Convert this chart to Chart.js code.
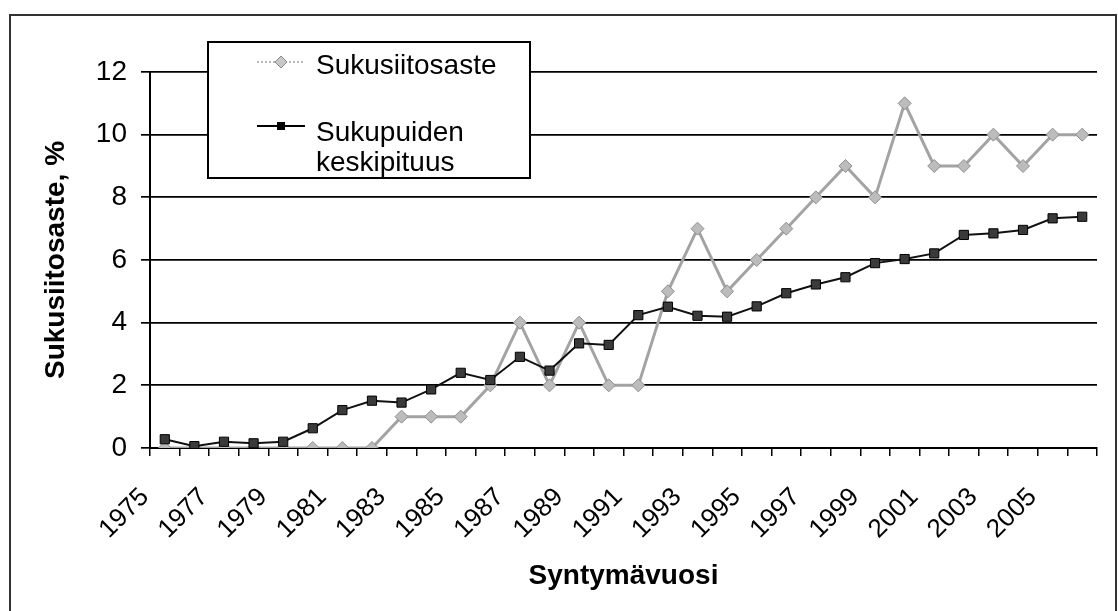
<!DOCTYPE html>
<html><head><meta charset="utf-8">
<script src="https://cdn.jsdelivr.net/npm/chart.js@4/dist/chart.umd.min.js"></script>
<style>html,body{margin:0;padding:0;background:#fff;}#wrap{position:relative;width:1118px;height:611px;}</style>
</head><body><div id="wrap"><canvas id="c" width="1118" height="611"></canvas></div>
<script>
const years = ['1975','1976','1977','1978','1979','1980','1981','1982','1983','1984','1985','1986','1987','1988','1989','1990','1991','1992','1993','1994','1995','1996','1997','1998','1999','2000','2001','2002','2003','2004','2005','2006'];
const sukusiitosaste = [0,0,0,0,0,0,0,0,1,1,1,2,4,2,4,2,2,5,7,5,6,7,8,9,8,11,9,9,10,9,10,10];
const keskipituus = [0.28,0.06,0.2,0.15,0.2,0.63,1.21,1.51,1.45,1.87,2.4,2.17,2.91,2.47,3.34,3.29,4.24,4.51,4.22,4.19,4.52,4.94,5.22,5.45,5.9,6.03,6.21,6.8,6.85,6.96,7.33,7.38];
const seriesNames = ['Sukusiitosaste', 'Sukupuiden keskipituus'];
const yTicks = [0,2,4,6,8,10,12];
const xTitle = 'Syntymävuosi';
const yTitle = 'Sukusiitosaste, %';

const FONT = "'Liberation Sans', Arial, sans-serif";

const frame = {
  id: 'frame',
  beforeDraw(chart) {
    const ctx = chart.ctx;
    ctx.save();
    ctx.strokeStyle = '#333';
    ctx.lineWidth = 2;
    ctx.strokeRect(10, 15, 1106, 605);
    ctx.restore();
  },
  afterDraw(chart) {
    const ctx = chart.ctx;
    ctx.save();
    ctx.fillStyle = '#fff';
    ctx.fillRect(208, 42, 322, 136);
    ctx.strokeStyle = '#000';
    ctx.lineWidth = 2;
    ctx.strokeRect(208, 42, 322, 136);
    // item 1
    ctx.strokeStyle = '#a0a0a0';
    ctx.lineWidth = 1.5;
    ctx.setLineDash([2, 2]);
    ctx.beginPath(); ctx.moveTo(257, 62); ctx.lineTo(305, 62); ctx.stroke();
    ctx.setLineDash([]);
    ctx.fillStyle = '#c8c8c8';
    ctx.strokeStyle = '#8a8a8a';
    ctx.lineWidth = 1;
    ctx.beginPath(); ctx.moveTo(281, 56); ctx.lineTo(287, 62); ctx.lineTo(281, 68); ctx.lineTo(275, 62); ctx.closePath(); ctx.fill(); ctx.stroke();
    // item 2
    ctx.strokeStyle = '#000';
    ctx.lineWidth = 2;
    ctx.beginPath(); ctx.moveTo(257, 126); ctx.lineTo(305, 126); ctx.stroke();
    ctx.fillStyle = '#000';
    ctx.fillRect(277, 122, 8, 8);
    ctx.fillStyle = '#000';
    ctx.font = '28px ' + FONT;
    ctx.textBaseline = 'alphabetic';
    ctx.textAlign = 'left';
    ctx.fillText(seriesNames[0], 316, 74);
    const parts = seriesNames[1].split(' ');
    ctx.fillText(parts[0], 316, 141);
    ctx.fillText(parts[1], 316, 171);
    ctx.restore();
  }
};

new Chart(document.getElementById('c'), {
  type: 'line',
  data: {
    labels: years,
    datasets: [
      {
        label: seriesNames[0],
        data: sukusiitosaste,
        borderColor: '#a3a3a3',
        borderWidth: 3,
        pointStyle: 'rectRot',
        pointRadius: 6.5,
        pointBackgroundColor: '#bcbcbc',
        pointBorderColor: '#8e8e8e',
        pointBorderWidth: 1,
        tension: 0,
        order: 2
      },
      {
        label: seriesNames[1],
        data: keskipituus,
        borderColor: '#111',
        borderWidth: 2,
        pointStyle: 'rect',
        pointRadius: 6.5,
        pointBackgroundColor: '#3a3a3a',
        pointBorderColor: '#000',
        pointBorderWidth: 1,
        tension: 0,
        order: 1
      }
    ]
  },
  options: {
    responsive: false,
    animation: false,
    devicePixelRatio: 1,
    layout: { padding: { left: 10, right: 21, top: 72, bottom: 0 } },
    plugins: { legend: { display: false }, tooltip: { enabled: false } },
    scales: {
      x: {
        offset: true,
        grid: { drawOnChartArea: false, drawTicks: true, tickLength: 8, color: '#000', lineWidth: 1.5, offset: true },
        border: { display: true, color: '#000', width: 2 },
        ticks: {
          autoSkip: false, minRotation: 45, maxRotation: 45, padding: 26, labelOffset: -20,
          color: '#000', font: { family: FONT, size: 26 },
          callback: function(v, i) { return i % 2 === 0 ? years[i] : ''; }
        },
        title: { display: true, text: xTitle, color: '#000', font: { family: FONT, size: 28, weight: 'bold' }, padding: { top: 0, bottom: 18 } },
        afterFit(scale) { scale.height = 163; scale.paddingRight = 0; scale.paddingLeft = 0; }
      },
      y: {
        min: 0, max: 12,
        afterBuildTicks(scale) { scale.ticks = yTicks.map(v => ({ value: v })); },
        grid: { color: '#000', lineWidth: 1.7, tickLength: 9, drawTicks: true },
        border: { display: true, color: '#000', width: 2 },
        ticks: { padding: 14, color: '#000', font: { family: FONT, size: 28 } },
        title: { display: true, text: yTitle, color: '#000', font: { family: FONT, size: 28, weight: 'bold' }, padding: { top: 29, bottom: 0 } },
        afterFit(scale) { scale.width = 140; }
      }
    }
  },
  plugins: [frame]
});
</script></body></html>
